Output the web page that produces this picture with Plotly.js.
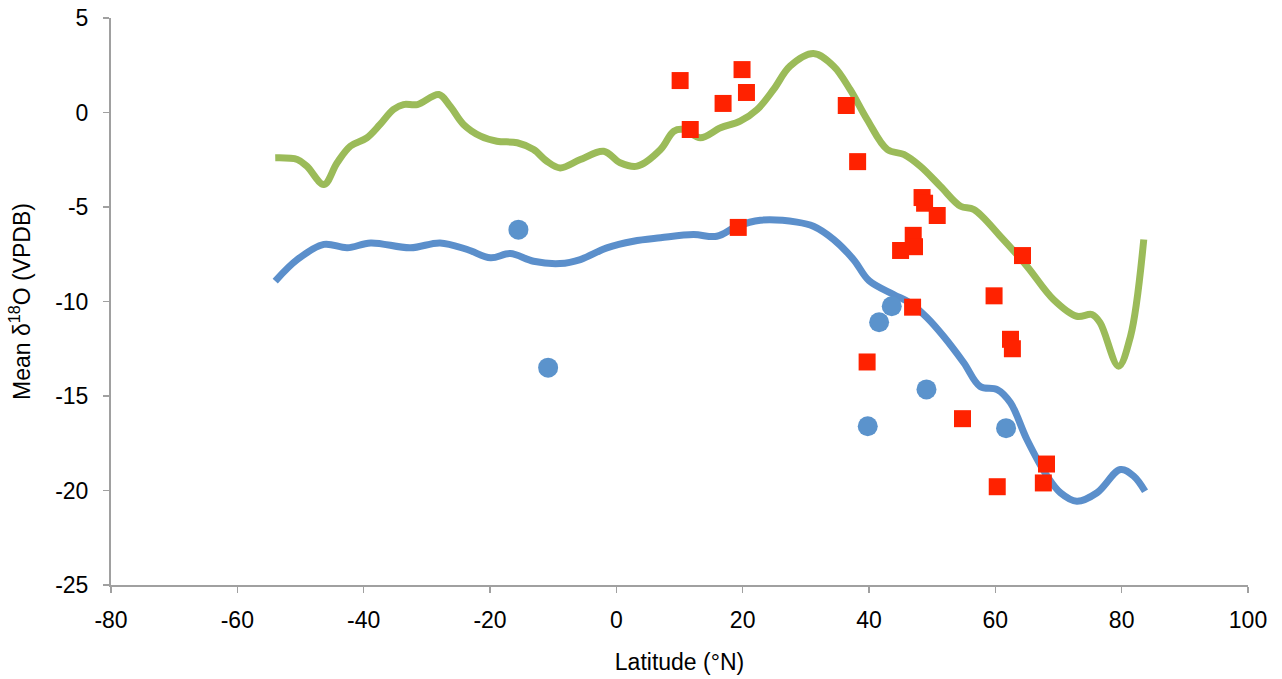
<!DOCTYPE html>
<html>
<head>
<meta charset="utf-8">
<script src="https://cdn.plot.ly/plotly-3.0.1.min.js"></script>
<style>html,body{margin:0;padding:0;background:#fff;}#chart{width:1282px;height:679px;}</style>
</head>
<body>
<div id="chart"></div>
<script>
// Green curve (latitude, mean d18O)
const greenLat = [-54.0,-50.5,-49.0,-46.3,-44.2,-42.1,-39.5,-37.4,-35.3,-33.7,-31.5,-28.1,-26.3,-24.2,-21.5,-18.9,-15.7,-13.1,-11.0,-8.9,-5.7,-2.0,0.6,3.3,7.0,9.1,10.7,13.3,16.5,19.6,22.3,24.9,27.5,31.2,34.4,37.0,39.7,42.9,45.5,48.1,51.3,54.5,56.6,60.8,65.0,69.2,72.9,75.3,76.6,79.5,81.4,83.5];
const greenVal = [-2.40,-2.49,-2.84,-3.81,-2.66,-1.78,-1.34,-0.63,0.16,0.42,0.42,0.95,0.33,-0.63,-1.25,-1.52,-1.60,-1.96,-2.58,-2.93,-2.49,-2.05,-2.66,-2.84,-1.96,-0.99,-0.90,-1.34,-0.81,-0.46,0.16,1.22,2.45,3.12,2.45,1.22,-0.37,-1.96,-2.22,-2.84,-3.90,-4.96,-5.13,-6.55,-8.13,-9.89,-10.78,-10.69,-11.13,-13.42,-11.84,-6.72];

// Blue curve
const blueLat = [-54.0,-50.5,-46.3,-42.6,-38.9,-32.6,-27.9,-23.6,-19.9,-16.8,-13.1,-8.9,-5.7,-1.5,2.7,7.0,12.2,15.9,19.1,22.8,28.6,31.2,34.4,37.6,40.0,43.9,46.5,49.2,51.8,55.0,57.6,60.3,62.4,65.0,68.2,70.3,72.9,76.1,79.8,81.9,83.7];
const blueVal = [-8.92,-7.78,-6.98,-7.16,-6.90,-7.16,-6.90,-7.25,-7.69,-7.46,-7.87,-7.99,-7.78,-7.16,-6.81,-6.63,-6.46,-6.55,-6.02,-5.70,-5.80,-6.02,-6.72,-7.80,-8.90,-9.63,-10.07,-10.86,-11.84,-13.24,-14.50,-14.66,-15.36,-17.30,-19.24,-20.12,-20.57,-20.12,-18.89,-19.24,-20.04];

// Red squares
const redLat = [10.1,19.9,16.9,20.6,11.7,36.4,38.2,19.3,48.4,48.8,50.8,47.0,47.2,45.0,64.3,46.9,59.8,62.4,62.7,39.7,54.8,68.1,60.3,67.6];
const redVal = [1.69,2.27,0.48,1.06,-0.90,0.37,-2.60,-6.08,-4.50,-4.80,-5.45,-6.50,-7.10,-7.30,-7.57,-10.30,-9.70,-12.00,-12.50,-13.20,-16.20,-18.60,-19.80,-19.60];

// Blue circles
const circLat = [-15.5,-10.8,43.6,41.6,49.1,39.8,61.7];
const circVal = [-6.20,-13.50,-10.25,-11.10,-14.65,-16.60,-16.70];

// Tick labels
const xTickVals = [-80,-60,-40,-20,0,20,40,60,80,100];
const xTickText = ['-80','-60','-40','-20','0','20','40','60','80','100'];
const yTickVals = [-25,-20,-15,-10,-5,0,5];
const yTickText = ['-25','-20','-15','-10','-5','0','5'];

const traces = [
  {x: greenLat, y: greenVal, mode: 'lines', line: {color: '#9BBB59', width: 7, shape: 'spline', smoothing: 1}, hoverinfo: 'skip'},
  {x: blueLat, y: blueVal, mode: 'lines', line: {color: '#5B8FCB', width: 7, shape: 'spline', smoothing: 1}, hoverinfo: 'skip'},
  {x: circLat, y: circVal, mode: 'markers', marker: {symbol: 'circle', size: 20, color: '#5B93CC'}},
  {x: redLat, y: redVal, mode: 'markers', marker: {symbol: 'square', size: 17, color: '#FF2200'}}
];

const axisFont = {family: 'Liberation Sans, Arial, sans-serif', size: 23, color: '#000'};

const layout = {
  width: 1282, height: 679,
  margin: {l: 111, r: 34, t: 18, b: 94},
  paper_bgcolor: '#fff', plot_bgcolor: '#fff',
  showlegend: false,
  font: axisFont,
  xaxis: {
    range: [-80, 100], tickmode: 'array', tickvals: xTickVals, ticktext: xTickText,
    showgrid: false, zeroline: false, automargin: false,
    showline: true, linecolor: '#A0A0A0', linewidth: 2,
    ticks: 'outside', ticklen: 6, tickcolor: '#A0A0A0', tickwidth: 1.5,
    tickfont: axisFont, ticklabelstandoff: 7,
    title: {text: 'Latitude (°N)', font: axisFont, standoff: 22}
  },
  yaxis: {
    range: [-25, 5], tickmode: 'array', tickvals: yTickVals, ticktext: yTickText,
    showgrid: false, zeroline: false, automargin: false,
    showline: true, linecolor: '#A0A0A0', linewidth: 2,
    ticks: 'outside', ticklen: 6, tickcolor: '#A0A0A0', tickwidth: 1.5,
    tickfont: axisFont, ticklabelstandoff: 10,
    title: {text: 'Mean δ<sup>18</sup>O (VPDB)', font: axisFont, standoff: 18}
  }
};

Plotly.newPlot('chart', traces, layout, {displayModeBar: false, staticPlot: true});
</script>
</body>
</html>
